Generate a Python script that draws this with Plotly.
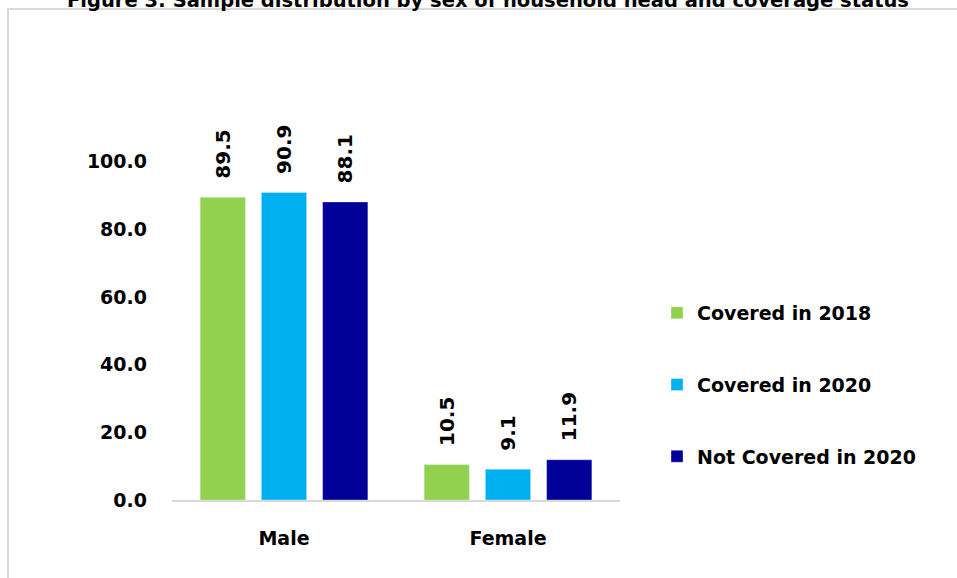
import plotly.graph_objects as go

categories = ["Male", "Female"]
series_names = ["Covered in 2018", "Covered in 2020", "Not Covered in 2020"]
covered_2018 = [89.5, 10.5]
covered_2020 = [90.9, 9.1]
not_covered_2020 = [88.1, 11.9]
tick_vals = [0, 20, 40, 60, 80, 100]
tick_text = ["0.0", "20.0", "40.0", "60.0", "80.0", "100.0"]
title_text = "Figure 3: Sample distribution by sex of household head and coverage status"

colors = ["#92D050", "#00B0F0", "#000099"]
FONT = "DejaVu Sans"
W, H = 957, 578
L, R, T, B = 172, 337, 94, 78

fig = go.Figure()
all_series = [covered_2018, covered_2020, not_covered_2020]
for i, (name, vals) in enumerate(zip(series_names, all_series)):
    fig.add_trace(go.Bar(
        x=categories, y=vals, name=name,
        marker=dict(color=colors[i], line=dict(color="rgba(255,255,255,0.35)", width=1)),
        legendgroup=name,
    ))
    for c, v in zip(categories, vals):
        fig.add_annotation(
            x=c, y=v, xref="x", yref="y", text=f"{v:.1f}", showarrow=False,
            textangle=-90, xshift=(i - 1) * 61, yshift=16, yanchor="bottom",
            font=dict(family=FONT, size=20, color="black", weight="bold"),
        )

pw = W - L - R
ph = H - T - B
fig.add_shape(type="rect", xref="paper", yref="paper",
              x0=(8 - L) / pw, x1=(W + 20 - L) / pw,
              y0=(H - B - (H + 20)) / ph, y1=(H - B - 9) / ph,
              line=dict(color="#d9d9d9", width=2), fillcolor="rgba(0,0,0,0)", layer="below")

fig.update_layout(
    width=W, height=H,
    margin=dict(l=L, r=R, t=T, b=B),
    paper_bgcolor="white", plot_bgcolor="white",
    barmode="group", bargap=0.18, bargroupgap=0.26,
    title=dict(text=title_text, x=488 / W, xanchor="center", xref="container",
               yref="container", y=1 - 7 / H, yanchor="bottom",
               font=dict(family=FONT, size=19.5, color="black", weight="bold")),
    font=dict(family=FONT, color="black"),
    showlegend=True,
    legend=dict(x=(657 - L) / pw, xanchor="left", y=(H - B - 294) / ph, yanchor="top",
                font=dict(family=FONT, size=19, color="black", weight="bold"),
                tracegroupgap=44, bgcolor="rgba(0,0,0,0)"),
    xaxis=dict(showline=True, linecolor="#d9d9d9", linewidth=2, ticks="",
               showgrid=False, ticklabelstandoff=20,
               tickfont=dict(family=FONT, size=19, color="black", weight="bold")),
    yaxis=dict(range=[0, 120], tickvals=tick_vals, ticktext=tick_text,
               showgrid=False, zeroline=False, showline=False, ticks="",
               ticklabelstandoff=24,
               tickfont=dict(family=FONT, size=19, color="black", weight="bold")),
)

fig.write_html("out.html", config={"displayModeBar": False},
               post_script="document.body.style.margin='0';")
